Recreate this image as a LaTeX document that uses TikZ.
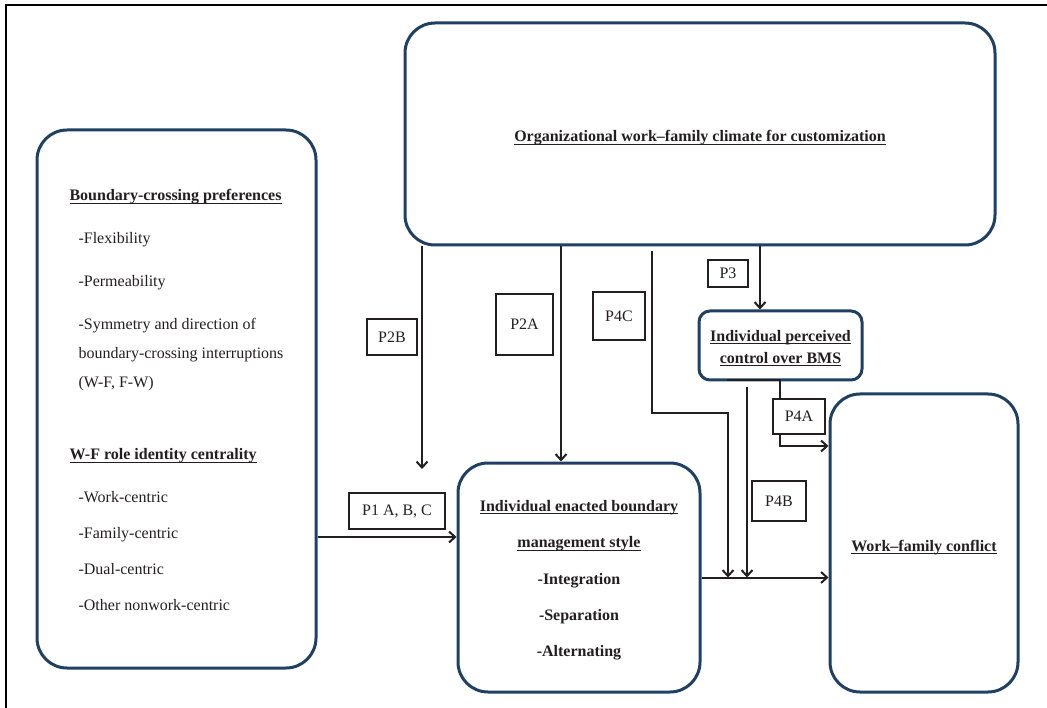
\documentclass[tikz,border=0pt]{standalone}
\usepackage{fontspec}
\setmainfont{Liberation Serif}
\usetikzlibrary{arrows.meta}
\definecolor{boxblue}{RGB}{31,64,98}
\definecolor{ink}{RGB}{35,31,32}
\newsavebox{\ulbox}
\newcommand{\uln}[1]{\sbox{\ulbox}{#1}\rlap{\rule[-2.5pt]{\wd\ulbox}{0.9pt}}\usebox{\ulbox}}
\newcommand{\topstrut}[1]{\rule{0pt}{#1}}

\begin{document}
\begin{tikzpicture}[x=1pt,y=-1pt,
		every node/.style={text=ink,font=\fontsize{16}{19}\selectfont},
		bigbox/.style={draw=boxblue,line width=3pt,rounded corners=30pt},
		pbox/.style={draw=ink,line width=1.5pt,fill=white,inner sep=0pt},
		arr/.style={draw=ink,line width=2pt,-{Straight Barb[length=6pt,width=11pt]}}]
	\useasboundingbox (0,0) rectangle (1047,708);
	\draw[line width=2.5pt] (6,708) -- (6,5) -- (1047,5);

	\node[bigbox,minimum width=279pt,minimum height=538pt,align=left,font=\fontsize{16}{29}\selectfont] (prefs) at (176.5,399) {\topstrut{14pt}\textbf{\uln{Boundary-crossing preferences}}\\[14pt]
		\hspace*{9pt}-Flexibility\\[14pt]
		\hspace*{9pt}-Permeability\\[14pt]
		\hspace*{9pt}-Symmetry and direction of\\
		\hspace*{9pt}boundary-crossing interruptions\\
		\hspace*{9pt}(W-F, F-W)\\[43pt]
		\textbf{\uln{W-F role identity centrality}}\\[14pt]
		\hspace*{9pt}-Work-centric\\[7pt]
		\hspace*{9pt}-Family-centric\\[7pt]
		\hspace*{9pt}-Dual-centric\\[7pt]
		\hspace*{9pt}-Other nonwork-centric};
	\node[bigbox,minimum width=590pt,minimum height=222pt] (climate) at (700,134) {\topstrut{19.5pt}\textbf{\uln{Organizational work--family climate for customization}}};
	\node[bigbox,minimum width=242pt,minimum height=229pt,align=center,font=\fontsize{16}{36.3}\selectfont] (enacted) at (579,577.5) {\topstrut{17pt}\textbf{\uln{Individual enacted boundary}}\\
		\textbf{\uln{management style}}\\
		\textbf{-Integration}\\
		\textbf{-Separation}\\
		\textbf{-Alternating}};
	\node[bigbox,rounded corners=11pt,minimum width=163pt,minimum height=69pt,align=center,font=\fontsize{16}{22}\selectfont] (control) at (780.5,345.5) {\topstrut{16.5pt}\textbf{\uln{Individual perceived}}\\
		\textbf{\uln{control over BMS}}};
	\node[bigbox,minimum width=188pt,minimum height=298pt] (conflict) at (924,543) {\topstrut{19.5pt}\textbf{\uln{Work--family conflict}}};

	\coordinate (p2b end) at (422,469);
	\coordinate (p2a x) at (561,0);
	\coordinate (p3 x) at (760,0);
	\coordinate (p1 level) at (0,537);
	\coordinate (p4c start) at (652,251);
	\coordinate (p4c bend) at (728,413);
	\coordinate (p4b start) at (747,387);
	\coordinate (bms tap) at (727,380);
	\coordinate (p4a bend) at (780,446);

	\draw[arr] (climate.south -| p2b end) -- (p2b end);
	\draw[arr] (climate.south -| p2a x) -- (enacted.north -| p2a x);
	\draw[arr] (climate.south -| p3 x) -- (control.north -| p3 x);
	\draw[arr] (prefs.east |- p1 level) -- (enacted.west |- p1 level);
	\draw[arr] (enacted.east) -- (conflict.west |- enacted.east);
	\draw[arr] (p4c start) |- (p4c bend) -- (p4c bend |- enacted.east);
	\draw[arr] (p4b start) -- (p4b start |- enacted.east);
	\draw[arr] (bms tap) -| (p4a bend) -- (conflict.west |- p4a bend);

	\node[pbox,minimum width=50pt,minimum height=36pt] (p2b) at (392,337) {P2B};
	\node[pbox,minimum width=57pt,minimum height=61pt] (p2a) at (524.5,324.5) {P2A};
	\node[pbox,minimum width=52pt,minimum height=48pt] (p4c) at (619,316) {P4C};
	\node[pbox,minimum width=40pt,minimum height=27pt] (p3) at (728,273.5) {P3};
	\node[pbox,minimum width=52pt,minimum height=35pt] (p4a) at (799,416.5) {P4A};
	\node[pbox,minimum width=54pt,minimum height=40pt] (p4b) at (779,501) {P4B};
	\node[pbox,minimum width=96pt,minimum height=36pt] (p1) at (397,511) {P1 A, B, C};
\end{tikzpicture}
\end{document}
